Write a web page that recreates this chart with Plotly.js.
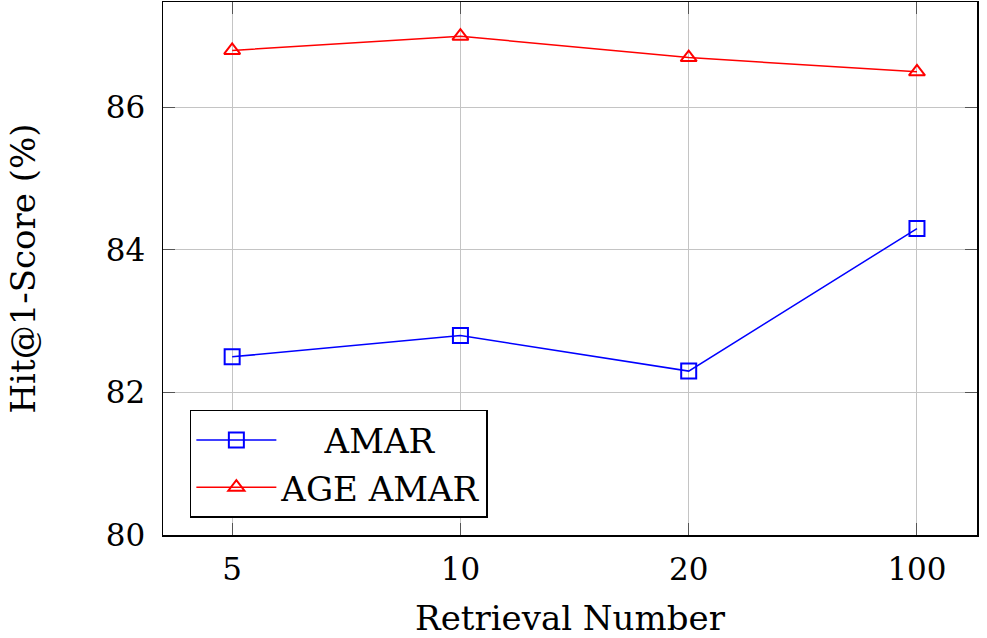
<!DOCTYPE html>
<html>
<head>
<meta charset="utf-8">
<script src="https://cdn.plot.ly/plotly-3.0.1.min.js"></script>
<style>
  html, body { margin: 0; padding: 0; background: #fff; }
  #chart { width: 987px; height: 638px; }
</style>
</head>
<body>
<div id="chart"></div>
<script>
// Hit@1 score versus number of retrieved candidates
const retrievalNumbers = ['5', '10', '20', '100'];
const amarScores = [82.5, 82.8, 82.3, 84.3];
const ageAmarScores = [86.8, 87.0, 86.7, 86.5];
const yTicks = [80, 82, 84, 86];

const serif = '"DejaVu Serif", serif';

const traces = [
  {
    x: retrievalNumbers,
    y: amarScores,
    name: '\u00a0\u00a0\u00a0\u00a0AMAR',
    type: 'scatter',
    mode: 'lines+markers',
    line: { color: '#0000ff', width: 1.5 },
    marker: { symbol: 'square-open', size: 15, color: '#0000ff', line: { width: 2 } }
  },
  {
    x: retrievalNumbers,
    y: ageAmarScores,
    name: 'AGE AMAR',
    type: 'scatter',
    mode: 'lines+markers',
    line: { color: '#ff0000', width: 1.5 },
    marker: { symbol: 'triangle-up-open', size: 14, color: '#ff0000', line: { width: 2 } }
  }
];

const layout = {
  width: 987,
  height: 638,
  margin: { l: 163, r: 10, t: 2, b: 103 },
  paper_bgcolor: '#ffffff',
  plot_bgcolor: '#ffffff',
  font: { family: serif, size: 31, color: '#000' },
  showlegend: true,
  legend: {
    x: 0.033, y: 0.032, xanchor: 'left', yanchor: 'bottom',
    bgcolor: '#ffffff', bordercolor: '#000', borderwidth: 1.5,
    font: { family: serif, size: 34, color: '#000' },
    itemwidth: 80,
    tracegroupgap: 0
  },
  xaxis: {
    type: 'category',
    range: [-0.303, 3.263],
    showgrid: true, gridcolor: '#c4c4c4', gridwidth: 1,
    showline: true, linecolor: '#000', linewidth: 1.5, mirror: 'ticks',
    ticks: 'inside', ticklen: 12, tickcolor: '#555', tickwidth: 1,
    tickfont: { family: serif, size: 31 },
    ticklabelstandoff: 6,
    zeroline: false,
    title: { text: 'Retrieval Number', font: { family: serif, size: 34 }, standoff: 22 }
  },
  yaxis: {
    range: [80, 87.48],
    tickvals: yTicks,
    ticktext: yTicks.map(String),
    showgrid: true, gridcolor: '#c4c4c4', gridwidth: 1,
    showline: true, linecolor: '#000', linewidth: 1.5, mirror: 'ticks',
    ticks: 'inside', ticklen: 12, tickcolor: '#555', tickwidth: 1,
    tickfont: { family: serif, size: 31 },
    ticklabelstandoff: 10,
    zeroline: false,
    title: { text: 'Hit@1-Score (%)', font: { family: serif, size: 34 }, standoff: 60 }
  }
};

Plotly.newPlot('chart', traces, layout, { displayModeBar: false, staticPlot: true });
</script>
</body>
</html>
